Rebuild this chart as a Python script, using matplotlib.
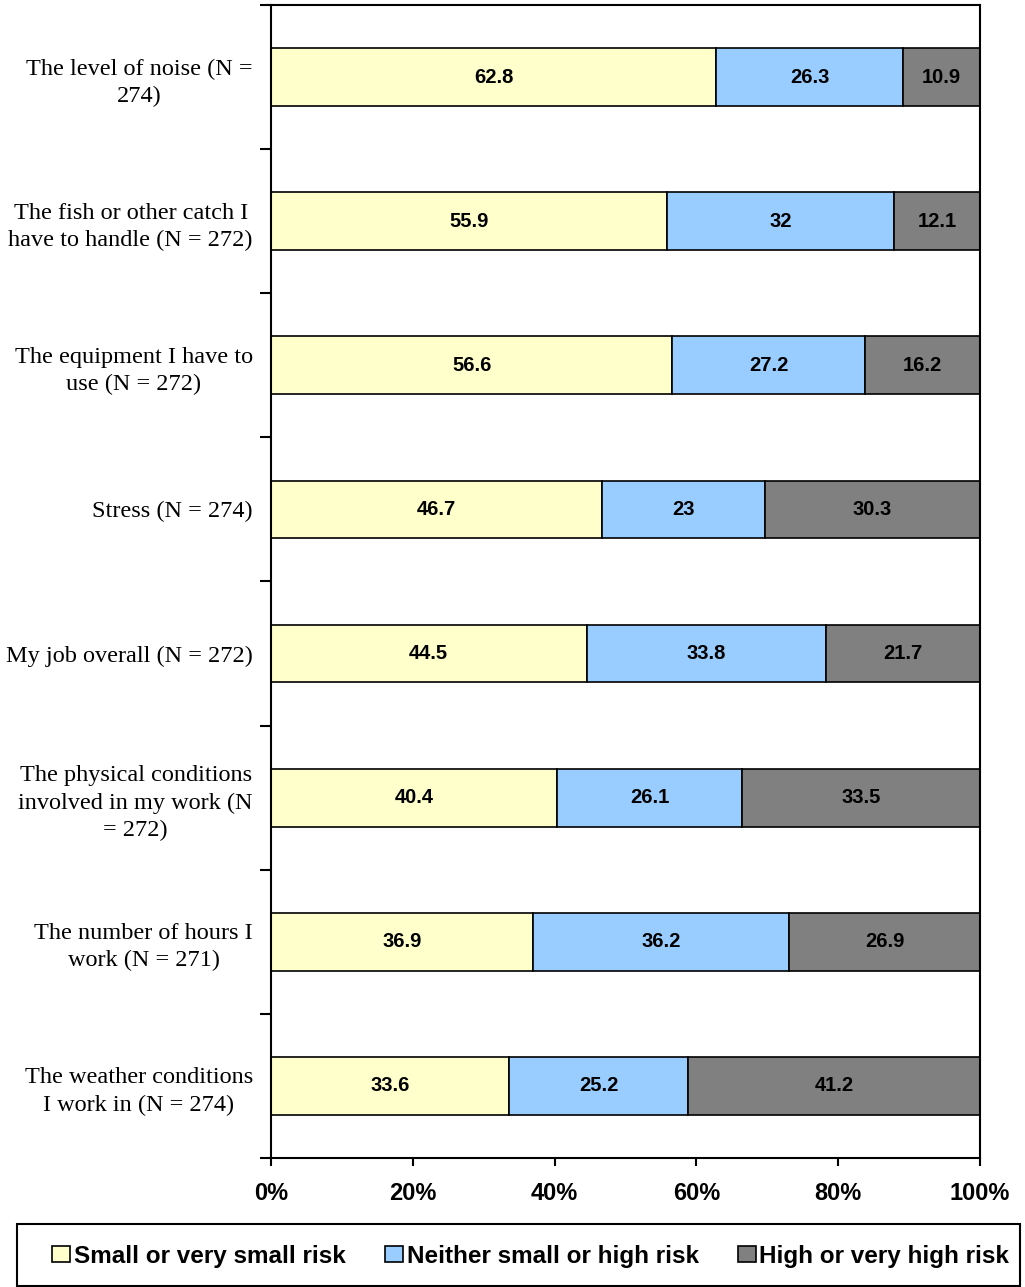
import matplotlib.pyplot as plt
from matplotlib.patches import Rectangle
import numpy as np

categories = [
    'The level of noise (N =\n274)',
    'The fish or other catch I\nhave to handle (N = 272)',
    'The equipment I have to\nuse (N = 272)',
    'Stress (N = 274)',
    'My job overall (N = 272)',
    'The physical conditions\ninvolved in my work (N\n= 272)',
    'The number of hours I\nwork (N = 271)',
    'The weather conditions\nI work in (N = 274)',
]
small_risk = [62.8, 55.9, 56.6, 46.7, 44.5, 40.4, 36.9, 33.6]
neither_risk = [26.3, 32, 27.2, 23, 33.8, 26.1, 36.2, 25.2]
high_risk = [10.9, 12.1, 16.2, 30.3, 21.7, 33.5, 26.9, 41.2]
series_names = ['Small or very small risk', 'Neither small or high risk', 'High or very high risk']
colors = ['#FFFFCC', '#99CCFF', '#808080']
x_ticks = [0, 20, 40, 60, 80, 100]
x_ticklabels = ['0%', '20%', '40%', '60%', '80%', '100%']

fig = plt.figure(figsize=(10.25, 12.87), dpi=100)
ax = fig.add_axes([271/1025, 1-1158/1287, (980-271)/1025, (1158-5)/1287])

y = np.arange(len(categories))
left = np.zeros(len(categories))
handles = []
for vals, name, col in zip([small_risk, neither_risk, high_risk], series_names, colors):
    vals = np.array(vals, dtype=float)
    bars = ax.barh(y, vals, left=left, height=0.4, color=col, edgecolor='black',
                   linewidth=1.2, label=name)
    handles.append(bars)
    for yi, l, v in zip(y, left, vals):
        ax.text(l + v/2, yi, f'{v:g}', ha='center', va='center',
                fontsize=14.5, fontweight='bold', family='Liberation Sans')
    left += vals

ax.set_xlim(0, 100)
ax.set_ylim(len(categories) - 0.5, -0.5)

ax.set_xticks(x_ticks)
ax.set_xticklabels(x_ticklabels, fontsize=17, fontweight='bold', family='Liberation Sans')
ax.tick_params(axis='x', direction='out', length=6, width=1.5, pad=11)

# ticks on the category boundaries, labels in between
ax.set_yticks(np.arange(len(categories) + 1) - 0.5)
ax.set_yticklabels([])
ax.tick_params(axis='y', which='major', direction='out', length=8, width=1.5)
ax.set_yticks(y, minor=True)
ax.set_yticklabels(categories, minor=True, fontsize=17.5, family='Liberation Serif',
                   multialignment='center', linespacing=1.38)
ax.tick_params(axis='y', which='minor', length=0, pad=13)

for sp in ax.spines.values():
    sp.set_linewidth(1.5)

# legend box
fig.patches.append(Rectangle((17/1025, 1-1286/1287), 1003/1025, 62/1287,
                             transform=fig.transFigure, fill=False,
                             edgecolor='black', linewidth=1.5))
fig.legend(handles=handles, labels=series_names, loc='center left', ncol=3,
           bbox_to_anchor=(52/1025, 1-1256/1287), frameon=False,
           prop={'family': 'Liberation Sans', 'weight': 'bold', 'size': 17.5},
           handlelength=0.75, handleheight=0.6, handletextpad=0.15,
           columnspacing=1.6, borderaxespad=0, borderpad=0)

fig.savefig('out.png', dpi=100)
